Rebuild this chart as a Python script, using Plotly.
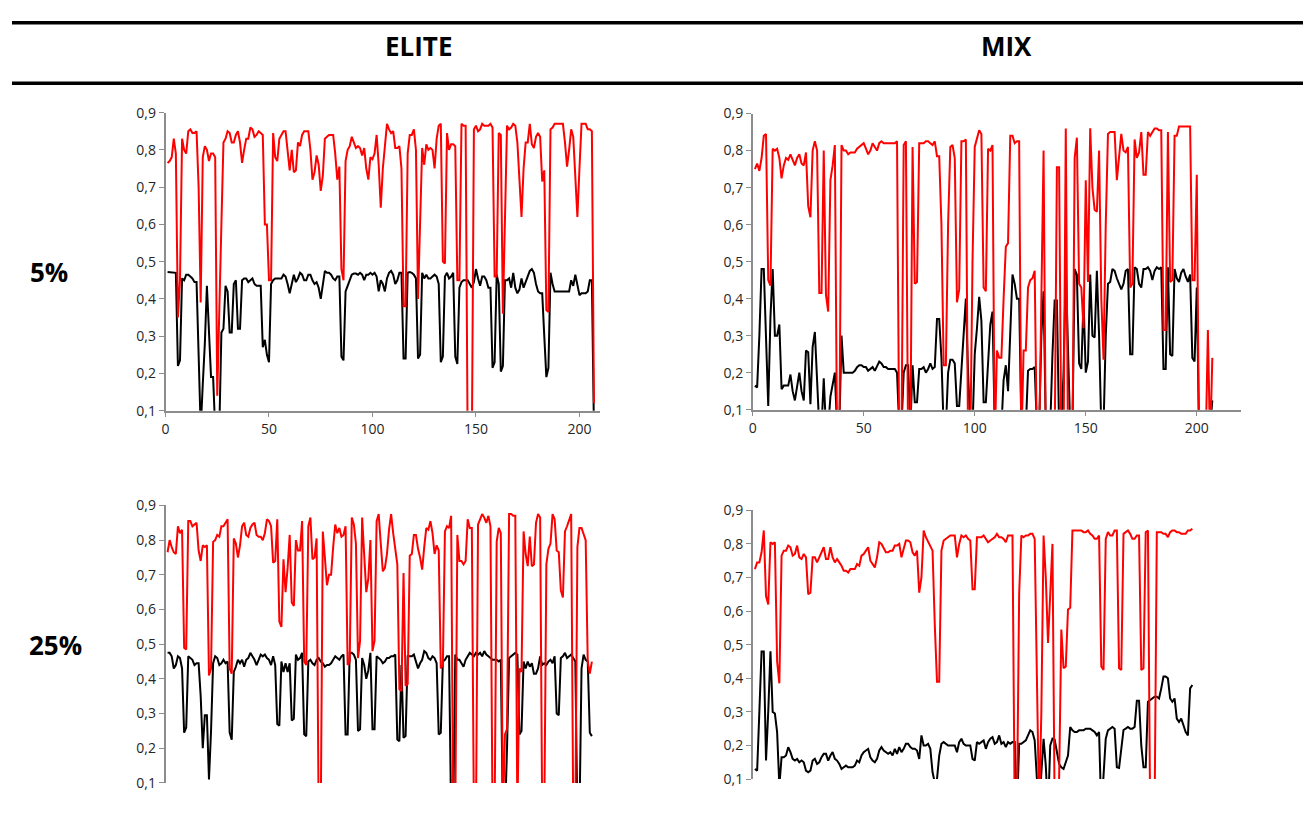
import plotly.graph_objects as go

# ---------------- DATA ----------------
elite_5_red = [
    0.765, 0.77, 0.78, 0.83, 0.79, 0.35, 0.45, 0.83, 0.80, 0.79,
    0.85, 0.855, 0.845, 0.845, 0.85, 0.70, 0.39, 0.78, 0.81, 0.80,
    0.77, 0.79, 0.79, 0.78, 0.14, 0.40, 0.60, 0.82, 0.83, 0.85,
    0.845, 0.82, 0.82, 0.84, 0.85, 0.82, 0.765, 0.80, 0.83, 0.83,
    0.86, 0.855, 0.835, 0.84, 0.85, 0.845, 0.84, 0.60, 0.60, 0.45,
    0.45, 0.845, 0.78, 0.77, 0.83, 0.84, 0.85, 0.85, 0.79, 0.745,
    0.80, 0.74, 0.745, 0.82, 0.81, 0.84, 0.85, 0.85, 0.85, 0.80,
    0.72, 0.74, 0.785, 0.76, 0.69, 0.73, 0.83, 0.835, 0.84, 0.84,
    0.84, 0.79, 0.72, 0.755, 0.48, 0.45, 0.77, 0.80, 0.81, 0.835,
    0.82, 0.805, 0.81, 0.805, 0.785, 0.805, 0.75, 0.72, 0.78, 0.775,
    0.79, 0.84, 0.76, 0.645, 0.75, 0.82, 0.87, 0.855, 0.845, 0.85,
    0.805, 0.805, 0.81, 0.75, 0.38, 0.38, 0.79, 0.84, 0.84, 0.855,
    0.80, 0.40, 0.60, 0.805, 0.76, 0.815, 0.80, 0.805, 0.80, 0.75,
    0.83, 0.865, 0.87, 0.50, 0.495, 0.845, 0.80, 0.815, 0.815, 0.81,
    0.45, 0.45, 0.87, 0.865, 0.865, 0.0, 0.0, 0.0, 0.855, 0.865,
    0.85, 0.855, 0.87, 0.865, 0.865, 0.865, 0.87, 0.86, 0.46, 0.46,
    0.845, 0.84, 0.36, 0.60, 0.865, 0.855, 0.86, 0.87, 0.865, 0.82,
    0.72, 0.62, 0.75, 0.82, 0.82, 0.87, 0.815, 0.805, 0.835, 0.845,
    0.835, 0.715, 0.745, 0.37, 0.365, 0.855, 0.86, 0.87, 0.87, 0.87,
    0.87, 0.87, 0.82, 0.755, 0.80, 0.855, 0.835, 0.74, 0.62, 0.75,
    0.87, 0.87, 0.87, 0.855, 0.855, 0.85, 0.12,
]
elite_5_black = [
    0.472, 0.472, 0.472, 0.472, 0.47, 0.22, 0.235, 0.455, 0.45, 0.465,
    0.465, 0.46, 0.455, 0.445, 0.445, 0.25, 0.05, 0.17, 0.28, 0.435,
    0.30, 0.19, 0.19, 0.05, 0.05, 0.05, 0.31, 0.32, 0.435, 0.42,
    0.31, 0.31, 0.44, 0.45, 0.32, 0.32, 0.45, 0.455, 0.455, 0.445,
    0.45, 0.455, 0.44, 0.435, 0.435, 0.435, 0.27, 0.29, 0.25, 0.23,
    0.44, 0.45, 0.455, 0.455, 0.455, 0.455, 0.465, 0.46, 0.44, 0.415,
    0.44, 0.465, 0.445, 0.455, 0.47, 0.465, 0.45, 0.45, 0.465, 0.465,
    0.45, 0.44, 0.445, 0.43, 0.40, 0.44, 0.475, 0.47, 0.47, 0.465,
    0.455, 0.45, 0.46, 0.46, 0.245, 0.235, 0.42, 0.435, 0.45, 0.465,
    0.468, 0.468, 0.465, 0.47, 0.465, 0.45, 0.465, 0.465, 0.47, 0.465,
    0.47, 0.46, 0.42, 0.45, 0.44, 0.42, 0.455, 0.47, 0.475, 0.465,
    0.44, 0.45, 0.47, 0.47, 0.24, 0.24, 0.47, 0.472, 0.47, 0.465,
    0.455, 0.24, 0.25, 0.47, 0.455, 0.465, 0.455, 0.455, 0.46, 0.465,
    0.46, 0.44, 0.23, 0.245, 0.46, 0.47, 0.455, 0.46, 0.47, 0.245,
    0.225, 0.43, 0.445, 0.45, 0.45, 0.45, 0.44, 0.43, 0.445, 0.48,
    0.455, 0.435, 0.46, 0.46, 0.45, 0.43, 0.43, 0.215, 0.23, 0.465,
    0.44, 0.205, 0.22, 0.45, 0.45, 0.455, 0.43, 0.47, 0.43, 0.415,
    0.425, 0.455, 0.43, 0.445, 0.465, 0.475, 0.48, 0.47, 0.44, 0.42,
    0.415, 0.415, 0.30, 0.19, 0.215, 0.47, 0.44, 0.42, 0.42, 0.42,
    0.42, 0.42, 0.42, 0.42, 0.42, 0.45, 0.435, 0.465, 0.44, 0.41,
    0.415, 0.415, 0.415, 0.42, 0.45, 0.45, 0.05,
]
mix_5_red = [
    0.75, 0.765, 0.745, 0.78, 0.84, 0.845, 0.45, 0.435, 0.805, 0.80,
    0.805, 0.78, 0.725, 0.76, 0.78, 0.775, 0.79, 0.775, 0.76, 0.78,
    0.79, 0.765, 0.76, 0.795, 0.65, 0.62, 0.80, 0.825, 0.80, 0.415,
    0.415, 0.80, 0.41, 0.365, 0.72, 0.76, 0.815, 0.0, 0.0, 0.815,
    0.80, 0.80, 0.79, 0.795, 0.795, 0.795, 0.805, 0.81, 0.815, 0.82,
    0.805, 0.79, 0.80, 0.82, 0.81, 0.80, 0.82, 0.825, 0.82, 0.82,
    0.82, 0.82, 0.82, 0.82, 0.825, 0.0, 0.0, 0.815, 0.825, 0.0,
    0.0, 0.81, 0.44, 0.445, 0.82, 0.82, 0.82, 0.825, 0.825, 0.82,
    0.815, 0.825, 0.785, 0.785, 0.60, 0.22, 0.22, 0.60, 0.81, 0.815,
    0.78, 0.39, 0.425, 0.825, 0.825, 0.83, 0.0, 0.0, 0.50, 0.81,
    0.83, 0.855, 0.845, 0.43, 0.42, 0.805, 0.80, 0.815, 0.0, 0.26,
    0.24, 0.24, 0.40, 0.54, 0.55, 0.84, 0.84, 0.82, 0.825, 0.825,
    0.0, 0.26, 0.26, 0.43, 0.45, 0.455, 0.475, 0.0, 0.0, 0.45,
    0.80, 0.0, 0.0, 0.0, 0.0, 0.0, 0.755, 0.755, 0.0, 0.0,
    0.86, 0.0, 0.0, 0.0, 0.78, 0.835, 0.44, 0.43, 0.32, 0.72,
    0.445, 0.86, 0.70, 0.64, 0.635, 0.80, 0.40, 0.235, 0.60, 0.845,
    0.85, 0.85, 0.85, 0.72, 0.79, 0.845, 0.80, 0.795, 0.81, 0.43,
    0.44, 0.83, 0.78, 0.795, 0.85, 0.735, 0.735, 0.85, 0.84, 0.85,
    0.86, 0.86, 0.855, 0.855, 0.315, 0.315, 0.85, 0.445, 0.45, 0.84,
    0.84, 0.865, 0.865, 0.865, 0.865, 0.865, 0.865, 0.45, 0.45, 0.735,
    0.0, 0.0, 0.0, 0.0, 0.315, 0.0, 0.24,
]
mix_5_black = [
    0.165, 0.16, 0.30, 0.48, 0.48, 0.30, 0.11, 0.35, 0.48, 0.30,
    0.30, 0.33, 0.155, 0.165, 0.165, 0.165, 0.195, 0.15, 0.125, 0.17,
    0.20, 0.15, 0.125, 0.26, 0.255, 0.115, 0.27, 0.31, 0.20, 0.05,
    0.05, 0.185, 0.05, 0.05, 0.135, 0.17, 0.20, 0.05, 0.05, 0.30,
    0.20, 0.20, 0.20, 0.20, 0.20, 0.205, 0.215, 0.22, 0.22, 0.215,
    0.215, 0.205, 0.21, 0.215, 0.205, 0.22, 0.23, 0.225, 0.215, 0.215,
    0.21, 0.21, 0.21, 0.21, 0.20, 0.05, 0.05, 0.20, 0.22, 0.22,
    0.05, 0.22, 0.12, 0.12, 0.21, 0.21, 0.215, 0.20, 0.21, 0.225,
    0.21, 0.215, 0.345, 0.345, 0.24, 0.05, 0.05, 0.20, 0.235, 0.235,
    0.225, 0.11, 0.11, 0.20, 0.30, 0.40, 0.20, 0.05, 0.05, 0.25,
    0.32, 0.405, 0.34, 0.12, 0.12, 0.24, 0.33, 0.365, 0.05, 0.05,
    0.05, 0.05, 0.18, 0.22, 0.15, 0.30, 0.465, 0.44, 0.40, 0.40,
    0.05, 0.05, 0.05, 0.205, 0.21, 0.21, 0.215, 0.05, 0.05, 0.30,
    0.42, 0.05, 0.05, 0.05, 0.25, 0.395, 0.395, 0.05, 0.05, 0.20,
    0.48, 0.30, 0.05, 0.05, 0.48, 0.465, 0.225, 0.21, 0.395, 0.20,
    0.23, 0.465, 0.30, 0.295, 0.475, 0.30, 0.05, 0.05, 0.30, 0.44,
    0.445, 0.48, 0.475, 0.455, 0.44, 0.425, 0.44, 0.475, 0.48, 0.25,
    0.25, 0.485, 0.48, 0.44, 0.43, 0.48, 0.48, 0.485, 0.475, 0.45,
    0.475, 0.485, 0.48, 0.485, 0.21, 0.21, 0.485, 0.25, 0.245, 0.48,
    0.455, 0.445, 0.47, 0.48, 0.46, 0.445, 0.465, 0.24, 0.23, 0.43,
    0.05, 0.05, 0.05, 0.05, 0.05, 0.05, 0.125,
]
elite_25_red = [
    0.765, 0.80, 0.78, 0.765, 0.76, 0.84, 0.82, 0.83, 0.49, 0.485,
    0.855, 0.855, 0.84, 0.845, 0.85, 0.77, 0.74, 0.785, 0.78, 0.785,
    0.41, 0.43, 0.795, 0.80, 0.815, 0.81, 0.84, 0.84, 0.85, 0.86,
    0.43, 0.415, 0.805, 0.79, 0.75, 0.785, 0.84, 0.85, 0.815, 0.81,
    0.835, 0.845, 0.85, 0.815, 0.81, 0.81, 0.80, 0.82, 0.86, 0.855,
    0.84, 0.735, 0.74, 0.86, 0.565, 0.55, 0.745, 0.65, 0.72, 0.815,
    0.62, 0.61, 0.80, 0.77, 0.77, 0.855, 0.45, 0.44, 0.84, 0.865,
    0.745, 0.75, 0.805, 0.0, 0.0, 0.825, 0.75, 0.67, 0.70, 0.70,
    0.78, 0.845, 0.82, 0.835, 0.81, 0.815, 0.84, 0.44, 0.45, 0.865,
    0.845, 0.79, 0.46, 0.51, 0.865, 0.75, 0.65, 0.69, 0.80, 0.48,
    0.51, 0.855, 0.875, 0.79, 0.71, 0.72, 0.76, 0.83, 0.875, 0.82,
    0.77, 0.73, 0.37, 0.365, 0.705, 0.38, 0.385, 0.755, 0.76, 0.815,
    0.815, 0.775, 0.75, 0.715, 0.78, 0.835, 0.83, 0.855, 0.82, 0.76,
    0.785, 0.77, 0.43, 0.44, 0.825, 0.84, 0.835, 0.87, 0.0, 0.0,
    0.815, 0.74, 0.74, 0.73, 0.74, 0.86, 0.835, 0.835, 0.0, 0.0,
    0.845, 0.86, 0.875, 0.865, 0.85, 0.87, 0.84, 0.0, 0.0, 0.795,
    0.835, 0.82, 0.0, 0.24, 0.255, 0.875, 0.875, 0.87, 0.87, 0.0,
    0.43, 0.42, 0.825, 0.76, 0.725, 0.81, 0.725, 0.73, 0.85, 0.875,
    0.865, 0.0, 0.0, 0.73, 0.775, 0.79, 0.875, 0.86, 0.77, 0.765,
    0.655, 0.635, 0.825, 0.84, 0.855, 0.875, 0.0, 0.0, 0.78, 0.835,
    0.835, 0.82, 0.80, 0.45, 0.415, 0.45,
]
elite_25_black = [
    0.475, 0.475, 0.465, 0.43, 0.44, 0.465, 0.46, 0.43, 0.245, 0.26,
    0.465, 0.46, 0.455, 0.44, 0.445, 0.445, 0.35, 0.20, 0.295, 0.295,
    0.11, 0.25, 0.445, 0.465, 0.46, 0.44, 0.445, 0.455, 0.445, 0.45,
    0.245, 0.225, 0.42, 0.435, 0.455, 0.445, 0.455, 0.435, 0.455, 0.46,
    0.475, 0.465, 0.455, 0.44, 0.455, 0.47, 0.465, 0.47, 0.46, 0.455,
    0.44, 0.465, 0.44, 0.27, 0.265, 0.45, 0.42, 0.445, 0.42, 0.445,
    0.28, 0.285, 0.47, 0.455, 0.46, 0.475, 0.24, 0.235, 0.45, 0.455,
    0.445, 0.44, 0.455, 0.46, 0.45, 0.445, 0.435, 0.44, 0.44, 0.445,
    0.455, 0.465, 0.46, 0.455, 0.465, 0.47, 0.24, 0.24, 0.475, 0.475,
    0.47, 0.455, 0.25, 0.255, 0.46, 0.44, 0.40, 0.425, 0.475, 0.255,
    0.255, 0.465, 0.46, 0.455, 0.445, 0.45, 0.46, 0.46, 0.465, 0.465,
    0.47, 0.225, 0.22, 0.44, 0.23, 0.235, 0.465, 0.465, 0.465, 0.47,
    0.45, 0.43, 0.445, 0.455, 0.48, 0.475, 0.46, 0.455, 0.465, 0.46,
    0.445, 0.24, 0.245, 0.45, 0.455, 0.465, 0.465, 0.0, 0.0, 0.47,
    0.455, 0.455, 0.445, 0.435, 0.455, 0.465, 0.475, 0.47, 0.465, 0.475,
    0.47, 0.475, 0.465, 0.48, 0.47, 0.465, 0.46, 0.455, 0.455, 0.455,
    0.45, 0.455, 0.0, 0.0, 0.20, 0.46, 0.465, 0.47, 0.475, 0.47,
    0.24, 0.25, 0.45, 0.43, 0.45, 0.435, 0.445, 0.415, 0.415, 0.43,
    0.465, 0.44, 0.445, 0.44, 0.45, 0.455, 0.445, 0.465, 0.30, 0.295,
    0.46, 0.465, 0.475, 0.46, 0.465, 0.47, 0.46, 0.45, 0.0, 0.0,
    0.43, 0.47, 0.455, 0.45, 0.245, 0.235,
]
mix_25_red = [
    0.725, 0.745, 0.745, 0.775, 0.84, 0.645, 0.62, 0.805, 0.80, 0.805,
    0.45, 0.385, 0.765, 0.78, 0.78, 0.795, 0.79, 0.765, 0.77, 0.795,
    0.76, 0.755, 0.77, 0.76, 0.65, 0.655, 0.76, 0.76, 0.745, 0.76,
    0.78, 0.79, 0.755, 0.755, 0.79, 0.76, 0.745, 0.755, 0.745, 0.735,
    0.72, 0.72, 0.715, 0.725, 0.725, 0.725, 0.74, 0.735, 0.765, 0.77,
    0.78, 0.79, 0.75, 0.74, 0.73, 0.76, 0.805, 0.80, 0.785, 0.775,
    0.775, 0.78, 0.78, 0.795, 0.795, 0.80, 0.76, 0.79, 0.81, 0.81,
    0.805, 0.775, 0.765, 0.78, 0.655, 0.70, 0.84, 0.82, 0.805, 0.795,
    0.78, 0.56, 0.39, 0.39, 0.78, 0.81, 0.815, 0.82, 0.825, 0.825,
    0.825, 0.76, 0.80, 0.825, 0.82, 0.825, 0.815, 0.81, 0.665, 0.665,
    0.82, 0.82, 0.82, 0.825, 0.815, 0.805, 0.81, 0.815, 0.82, 0.83,
    0.82, 0.82, 0.815, 0.805, 0.825, 0.825, 0.825, 0.0, 0.0, 0.65,
    0.825, 0.82, 0.825, 0.825, 0.83, 0.83, 0.815, 0.40, 0.0, 0.30,
    0.825, 0.70, 0.505, 0.65, 0.80, 0.0, 0.0, 0.10, 0.545, 0.43,
    0.435, 0.605, 0.61, 0.84, 0.84, 0.84, 0.84, 0.84, 0.835, 0.835,
    0.84, 0.83, 0.825, 0.815, 0.815, 0.825, 0.435, 0.425, 0.815, 0.835,
    0.825, 0.825, 0.84, 0.84, 0.43, 0.425, 0.83, 0.835, 0.84, 0.83,
    0.815, 0.815, 0.825, 0.825, 0.425, 0.43, 0.835, 0.84, 0.0, 0.0,
    0.0, 0.835, 0.835, 0.835, 0.83, 0.83, 0.82, 0.835, 0.84, 0.84,
    0.835, 0.835, 0.83, 0.83, 0.83, 0.84, 0.84, 0.845,
]
mix_25_black = [
    0.13, 0.125, 0.30, 0.48, 0.48, 0.155, 0.30, 0.48, 0.30, 0.295,
    0.24, 0.08, 0.165, 0.165, 0.17, 0.195, 0.18, 0.16, 0.155, 0.16,
    0.15, 0.155, 0.15, 0.125, 0.12, 0.125, 0.155, 0.16, 0.145, 0.15,
    0.165, 0.175, 0.175, 0.155, 0.17, 0.18, 0.16, 0.155, 0.145, 0.13,
    0.135, 0.14, 0.135, 0.135, 0.135, 0.14, 0.155, 0.15, 0.17, 0.18,
    0.185, 0.19, 0.165, 0.155, 0.15, 0.16, 0.185, 0.195, 0.185, 0.18,
    0.175, 0.18, 0.17, 0.19, 0.175, 0.195, 0.18, 0.19, 0.205, 0.205,
    0.195, 0.19, 0.19, 0.185, 0.16, 0.23, 0.20, 0.20, 0.205, 0.19,
    0.12, 0.09, 0.10, 0.17, 0.205, 0.21, 0.205, 0.20, 0.20, 0.20,
    0.20, 0.18, 0.21, 0.22, 0.205, 0.20, 0.20, 0.20, 0.16, 0.155,
    0.21, 0.205, 0.21, 0.215, 0.19, 0.21, 0.22, 0.225, 0.205, 0.21,
    0.23, 0.205, 0.21, 0.195, 0.21, 0.205, 0.21, 0.21, 0.0, 0.205,
    0.205, 0.21, 0.215, 0.23, 0.245, 0.24, 0.215, 0.10, 0.0, 0.12,
    0.22, 0.14, 0.0, 0.20, 0.22, 0.217, 0.18, 0.145, 0.135, 0.13,
    0.15, 0.17, 0.255, 0.245, 0.24, 0.24, 0.245, 0.245, 0.245, 0.25,
    0.25, 0.25, 0.245, 0.24, 0.23, 0.24, 0.0, 0.10, 0.22, 0.245,
    0.25, 0.255, 0.25, 0.135, 0.133, 0.20, 0.246, 0.25, 0.255, 0.25,
    0.25, 0.255, 0.333, 0.333, 0.20, 0.135, 0.135, 0.33, 0.335, 0.34,
    0.345, 0.345, 0.34, 0.37, 0.405, 0.405, 0.40, 0.34, 0.33, 0.34,
    0.28, 0.27, 0.28, 0.26, 0.24, 0.23, 0.37, 0.38,
]

panel_cols = ["ELITE", "MIX"]
panel_rows = ["5%", "25%"]
y_ticks = [0.1, 0.2, 0.3, 0.4, 0.5, 0.6, 0.7, 0.8, 0.9]
x_ticks = [0, 50, 100, 150, 200]

RED = "#FF0000"
BLACK = "#000000"
AXIS_GREY = "#8C8C8C"
W, H = 1303, 833

# pixel boxes of each plot area: (left, right, top, bottom)
panels = [
    dict(red=elite_5_red, black=elite_5_black, box=(162, 598, 105, 410), xmax=210, xaxis=True),
    dict(red=mix_5_red, black=mix_5_black, box=(751, 1241, 106, 409), xmax=220, xaxis=True),
    dict(red=elite_25_red, black=elite_25_black, box=(162, 598, 507, 791), xmax=210, xaxis=False),
    dict(red=mix_25_red, black=mix_25_black, box=(751, 1241, 512, 787), xmax=220, xaxis=False),
]

fig = go.Figure()
layout_axes = {}
for i, p in enumerate(panels, start=1):
    sx = "" if i == 1 else str(i)
    l, r, t, b = p["box"]
    for series, col in ((p["black"], BLACK), (p["red"], RED)):
        fig.add_trace(go.Scatter(
            x=list(range(1, len(series) + 1)), y=series,
            mode="lines", line=dict(color=col, width=2),
            xaxis="x" + sx, yaxis="y" + sx, hoverinfo="skip", showlegend=False,
        ))
    layout_axes["xaxis" + sx] = dict(
        domain=[l / W, r / W], range=[0, p["xmax"]], anchor="y" + sx,
        showgrid=False, zeroline=False,
        showline=p["xaxis"], linecolor=AXIS_GREY, linewidth=1.5,
        ticks="outside" if p["xaxis"] else "", ticklen=5, tickcolor=AXIS_GREY,
        tickvals=x_ticks, showticklabels=p["xaxis"],
        tickfont=dict(family="Open Sans", size=14, color="#262626"),
    )
    layout_axes["yaxis" + sx] = dict(
        domain=[1 - b / H, 1 - t / H], range=[0.1, 0.9], anchor="x" + sx,
        showgrid=False, zeroline=False,
        showline=True, linecolor=AXIS_GREY, linewidth=1.5,
        ticks="outside", ticklen=5, tickcolor=AXIS_GREY,
        tickvals=y_ticks, tickformat=".1f",
        tickfont=dict(family="Open Sans", size=14, color="#262626"),
    )

fig.update_layout(**layout_axes)

shapes = [
    dict(type="line", xref="paper", yref="paper", x0=8 / W, x1=1, y0=1 - 13 / H, y1=1 - 13 / H,
         line=dict(color="black", width=3.5)),
    dict(type="line", xref="paper", yref="paper", x0=8 / W, x1=1, y0=1 - 75 / H, y1=1 - 75 / H,
         line=dict(color="black", width=3.5)),
]
annotations = [
    dict(text="<b>" + panel_cols[0] + "</b>", x=416 / W, y=1 - 37 / H),
    dict(text="<b>" + panel_cols[1] + "</b>", x=1006 / W, y=1 - 37 / H),
    dict(text="<b>" + panel_rows[0] + "</b>", x=45 / W, y=1 - 268 / H),
    dict(text="<b>" + panel_rows[1] + "</b>", x=52 / W, y=1 - 650 / H),
]
for a in annotations:
    a.update(xref="paper", yref="paper", showarrow=False, xanchor="center", yanchor="middle",
             font=dict(family="Open Sans", size=26, color="black"))

fig.update_layout(
    width=W, height=H, margin=dict(l=0, r=0, t=0, b=0),
    paper_bgcolor="white", plot_bgcolor="white", showlegend=False,
    separators=", ", shapes=shapes, annotations=annotations,
    font=dict(family="Open Sans", size=14, color="#262626"),
)

fig.write_html("out.html")
